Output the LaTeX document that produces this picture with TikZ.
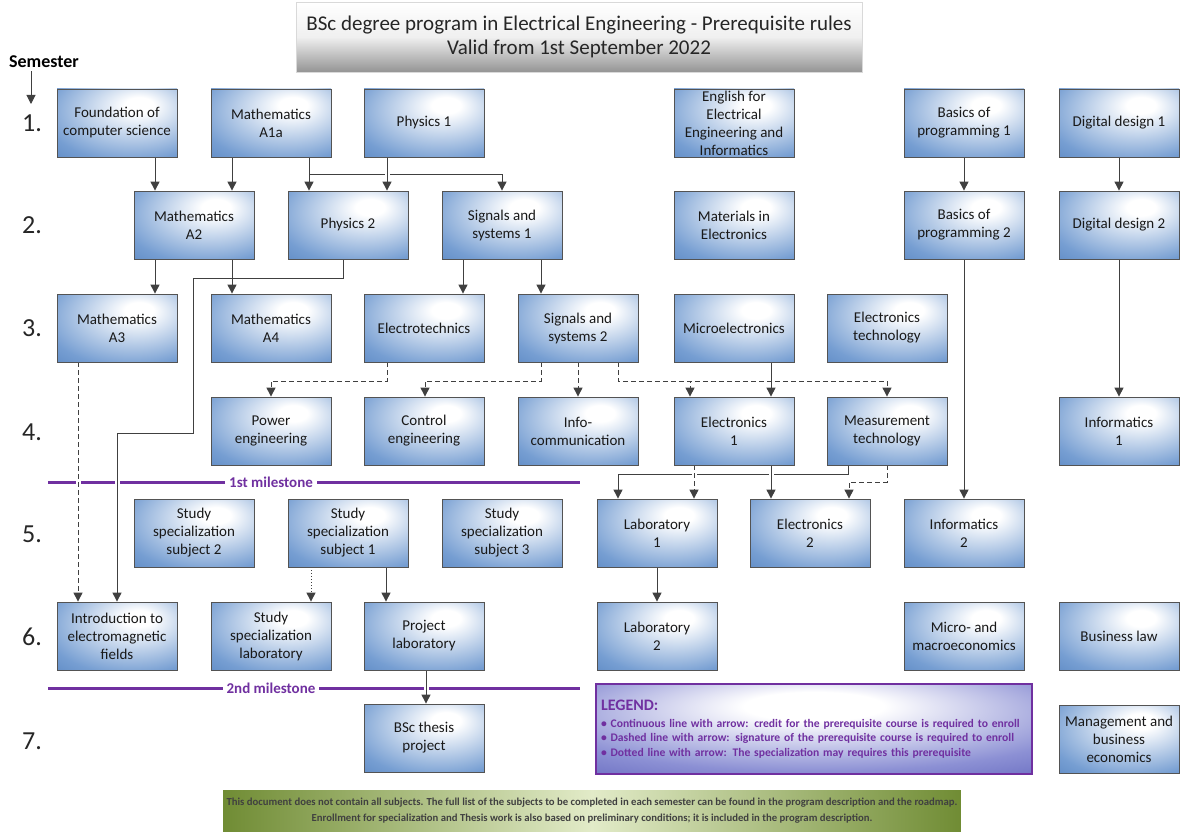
\documentclass[tikz,border=0pt]{standalone}
\usepackage{fontspec}
\setmainfont{Carlito}
\usetikzlibrary{arrows.meta}
\usetikzlibrary{backgrounds}
\definecolor{subjblue}{RGB}{72,120,184}
\definecolor{subjmid}{RGB}{118,158,210}
\definecolor{linegray}{RGB}{64,64,64}
\definecolor{mspurple}{RGB}{112,48,160}
\definecolor{legblue}{RGB}{82,86,180}
\definecolor{legmid}{RGB}{140,144,212}
\definecolor{noteolive}{RGB}{112,140,52}
\definecolor{notelight}{RGB}{226,235,200}
\pgfdeclareradialshading{subjshade}{\pgfpoint{10bp}{14bp}}{color(0bp)=(white); color(6bp)=(white); color(36bp)=(subjmid); color(56bp)=(subjblue); color(80bp)=(subjblue)}
\pgfdeclareradialshading{legshade}{\pgfpoint{0bp}{14bp}}{color(0bp)=(white); color(8bp)=(white); color(32bp)=(legmid); color(52bp)=(legblue); color(80bp)=(legblue)}

\begin{document}
\begin{tikzpicture}[x=1pt,y=-1pt,
  subj/.style={draw=linegray!90, line width=.8pt, shading=subjshade, minimum width=120pt, minimum height=68pt, align=center, inner ysep=1pt, font=\fontsize{15}{18}\selectfont, text=black!90},
  conn/.style={draw=linegray, line width=1pt, -{Triangle[width=9pt,length=9pt]}},
  sigconn/.style={conn, dash pattern=on 5pt off 3pt},
  specconn/.style={conn, dotted},
  jump/.style={preaction={draw=white, line width=5pt, -, solid}},
  milestone/.style={draw=mspurple, line width=3pt},
  mslabel/.style={fill=white, text=mspurple, font=\fontsize{15}{17}\selectfont\bfseries, inner sep=4pt},
  semnum/.style={font=\fontsize{26}{28}\selectfont, text=black!85}]
\useasboundingbox (0,0) rectangle (1180,832);

% title and semester axis
\node[draw=black!15, shading=axis, top color=white, bottom color=black!42, middle color=white!94!black, minimum width=566pt, minimum height=70pt, align=center, font=\fontsize{21}{24}\selectfont, text=black!85] (title) at (579,37) {BSc degree program in Electrical Engineering - Prerequisite rules\\Valid from 1st September 2022};
\node[font=\fontsize{18}{20}\selectfont\bfseries] (semhead) at (44,62) {Semester};
\draw[conn] (semhead.south -| 31,0) -- (31,104);
\foreach \s/\y in {1/123,2/225,3/328,4/432,5/534,6/637,7/741}
  \node[semnum] (sem\s) at (32,\y) {\s.};

% semester 1
\node[subj] (found) at (117,123) {Foundation of\\computer science};
\node[subj] (matha1) at (271,123) {Mathematics\\A1a};
\node[subj] (phys1) at (424,123) {Physics 1};
\node[subj] (engl) at (734,123) {English for\\Electrical\\Engineering and\\Informatics};
\node[subj] (prog1) at (964,123) {Basics of\\programming 1};
\node[subj] (dig1) at (1119,123) {Digital design 1};
% semester 2
\node[subj] (matha2) at (194,225) {Mathematics\\A2};
\node[subj] (phys2) at (348,225) {Physics 2};
\node[subj] (sig1) at (502,225) {Signals and\\systems 1};
\node[subj] (mater) at (734,225) {Materials in\\Electronics};
\node[subj] (prog2) at (964,225) {Basics of\\programming 2};
\node[subj] (dig2) at (1119,225) {Digital design 2};
% semester 3
\node[subj] (matha3) at (117,328) {Mathematics\\A3};
\node[subj] (matha4) at (271,328) {Mathematics\\A4};
\node[subj] (eltech) at (424,328) {Electrotechnics};
\node[subj] (sig2) at (578,328) {Signals and\\systems 2};
\node[subj] (micro) at (734,328) {Microelectronics};
\node[subj] (eltechn) at (887,328) {Electronics\\technology};
% semester 4
\node[subj] (power) at (271,431) {Power\\engineering};
\node[subj] (control) at (424,431) {Control\\engineering};
\node[subj] (infocom) at (578,431) {Info-\\communication};
\node[subj] (elec1) at (734,431) {Electronics\\1};
\node[subj] (meas) at (887,431) {Measurement\\technology};
\node[subj] (infor1) at (1119,431) {Informatics\\1};
% semester 5
\node[subj] (spec2) at (194,533) {Study\\specialization\\subject 2};
\node[subj] (spec1) at (348,533) {Study\\specialization\\subject 1};
\node[subj] (spec3) at (502,533) {Study\\specialization\\subject 3};
\node[subj] (lab1) at (657,533) {Laboratory\\1};
\node[subj] (elec2) at (810,533) {Electronics\\2};
\node[subj] (infor2) at (964,533) {Informatics\\2};
% semester 6
\node[subj] (intro) at (117,636) {Introduction to\\electromagnetic\\fields};
\node[subj] (speclab) at (271,636) {Study\\specialization\\laboratory};
\node[subj] (projlab) at (424,636) {Project\\laboratory};
\node[subj] (lab2) at (657,636) {Laboratory\\2};
\node[subj] (micmac) at (964,636) {Micro- and\\macroeconomics};
\node[subj] (buslaw) at (1119,636) {Business law};
% semester 7
\node[subj] (thesis) at (424,738) {BSc thesis\\project};
\node[subj] (mgmt) at (1119,739) {Management and\\business\\economics};

% legend and note
\node[draw=mspurple, line width=1.5pt, shading=legshade, minimum width=436pt, minimum height=90pt, text width=426pt, align=left, font=\fontsize{11.6}{14.5}\selectfont\bfseries, text=mspurple] (legend) at (814,729)
  {{\fontsize{16}{18}\selectfont LEGEND:}\\[2pt]
   \textbullet\ Continuous line with arrow: credit for the prerequisite course is required to enroll\\
   \textbullet\ Dashed line with arrow: signature of the prerequisite course is required to enroll\\
   \textbullet\ Dotted line with arrow: The specialization may requires this prerequisite};
\node[shading=axis, left color=noteolive, right color=noteolive, middle color=notelight, minimum width=736pt, minimum height=42pt, align=center, font=\fontsize{10.7}{16}\selectfont\bfseries, text=black!75] (note) at (592,811)
  {This document does not contain all subjects. The full list of the subjects to be completed in each semester can be found in the program description and the roadmap.\\
   Enrollment for specialization and Thesis work is also based on preliminary conditions; it is included in the program description.};

\begin{scope}[on background layer]
% milestones
\draw[milestone] (48,482) -- (580,482);
\node[mslabel] (ms1) at (271,482) {1st milestone};
\draw[milestone] (48,688) -- (580,688);
\node[mslabel] (ms2) at (271,688) {2nd milestone};

% semester 1 -> 2
\draw[conn] (found.south -| 155,0) -- (matha2.north -| 155,0);
\draw[conn] (matha1.south -| 232,0) -- (matha2.north -| 232,0);
\draw[conn] (matha1.south -| 309,0) -- (phys2.north -| 309,0);
\draw[conn] (matha1.south -| 309,0) |- (502,174) -- (sig1.north -| 502,0);
\draw[conn,jump] (phys1.south -| 387,0) -- (phys2.north -| 387,0);
\draw[conn] (prog1.south) -- (prog2.north);
\draw[conn] (dig1.south) -- (dig2.north);

% semester 2 -> 3
\draw[conn,jump] (phys2.south -| 343,0) |- (193,278) |- (117,433) -- (intro.north -| 117,0);
\draw[conn] (matha2.south -| 155,0) -- (matha3.north -| 155,0);
\draw[conn] (matha2.south -| 232,0) -- (matha4.north -| 232,0);
\draw[conn] (sig1.south -| 463,0) -- (eltech.north -| 463,0);
\draw[conn] (sig1.south -| 541,0) -- (sig2.north -| 541,0);
\draw[conn] (prog2.south) -- (infor2.north);
\draw[conn] (dig2.south) -- (infor1.north);

% semester 3 -> 4
\draw[sigconn,jump] (matha3.south -| 78,0) -- (intro.north -| 78,0);
\draw[sigconn] (eltech.south -| 387,0) |- (271,381) -- (power.north);
\draw[sigconn] (sig2.south -| 541,0) |- (425,381) -- (control.north -| 425,0);
\draw[sigconn] (sig2.south -| 578,0) -- (infocom.north -| 578,0);
\draw[sigconn] (sig2.south -| 618,0) |- (887,381) -- (meas.north -| 887,0);
\draw[sigconn] (sig2.south -| 618,0) |- (690,381) -- (elec1.north -| 690,0);
\draw[conn] (micro.south -| 771,0) -- (elec1.north -| 771,0);

% semester 4 -> 5
\draw[conn] (meas.south -| 848,0) |- (618,474) -- (lab1.north -| 618,0);
\draw[sigconn,jump] (elec1.south -| 694,0) -- (lab1.north -| 694,0);
\draw[conn,jump] (elec1.south -| 771,0) -- (elec2.north -| 771,0);
\draw[sigconn] (meas.south -| 887,0) |- (849,482) -- (elec2.north -| 849,0);

% semester 5 -> 6 -> 7
\draw[specconn] (spec1.south -| 311,0) -- (speclab.north -| 311,0);
\draw[conn] (spec1.south -| 386,0) -- (projlab.north -| 386,0);
\draw[conn] (lab1.south) -- (lab2.north);
\draw[conn,jump] (projlab.south -| 426,0) -- (thesis.north -| 426,0);
\end{scope}
\end{tikzpicture}
\end{document}
